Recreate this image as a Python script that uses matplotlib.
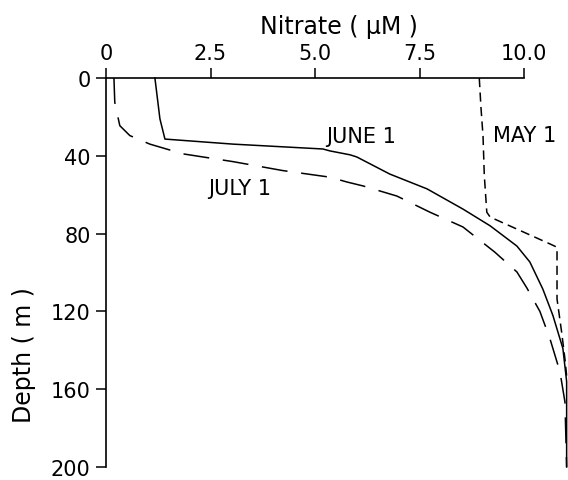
import matplotlib
matplotlib.use("Agg")
import matplotlib.pyplot as plt

# Data
may_x = [8.93, 8.97, 9.02, 9.05, 9.11, 9.19, 10.62, 10.79, 10.79, 10.79, 10.9, 10.98, 11.02]
may_depth = [0, 15, 30, 50, 69, 71.5, 85.3, 87, 100, 113.6, 130.6, 144.5, 153]

june_x = [1.17, 1.29, 1.41, 3.04, 5.19, 5.36, 5.84, 6.0, 6.79, 7.68, 8.54, 9.19,
          9.83, 10.14, 10.45, 10.69, 10.93, 11.02, 11.02]
june_depth = [0, 21, 31.4, 34, 36.5, 37.5, 39.5, 40.6, 49.4, 57, 67.4, 76,
              86.4, 94.6, 108.5, 122, 139, 156, 200]

july_x = [0.19, 0.21, 0.33, 0.57, 1.05, 1.84, 3.04, 4.23, 5.36, 5.77, 6.15, 6.96,
          7.75, 8.54, 9.3, 9.83, 10.07, 10.38, 10.62, 10.86, 10.98, 11.02]
july_depth = [0, 12.5, 24.5, 29.6, 34, 39, 43, 47.6, 51, 53.5, 55.5, 60.7,
              69, 76.6, 89.5, 99.7, 108, 120, 134, 151, 166.6, 200]

x_ticks = [0, 2.5, 5.0, 7.5, 10.0]
x_tick_labels = ["0", "2.5", "5.0", "7.5", "10.0"]
y_ticks = [0, 40, 80, 120, 160, 200]
y_tick_labels = ["0", "40", "80", "120", "160", "200"]

labels = ["MAY 1", "JUNE 1", "JULY 1"]
label_x = [10.02, 6.1, 3.2]
label_depth = [29.3, 29.8, 56.5]

plt.rcParams['font.family'] = ['DejaVu Sans']

fig = plt.figure(figsize=(5.68, 4.81), dpi=100)
W, H = 568, 481
left_px, top_px, bottom_px = 106, 79, 468
px_per_unit = (524 - 106) / 10.0
xmax = 11.05
ax = fig.add_axes([left_px / W, (H - bottom_px) / H,
                   xmax * px_per_unit / W, (bottom_px - top_px) / H])

lw = 1.1
ax.plot(may_x, may_depth, color='black', lw=lw, dashes=(6, 3.5), clip_on=False)
ax.plot(june_x, june_depth, color='black', lw=lw, clip_on=False)
ax.plot(july_x, july_depth, color='black', lw=lw, dashes=(17, 9), clip_on=False)

for t, x, d in zip(labels, label_x, label_depth):
    ax.text(x, d, t, fontsize=15, ha='center', va='center')

ax.set_xlim(0, xmax)
ax.set_ylim(200, 0)

ax.xaxis.tick_top()
ax.set_xticks(x_ticks)
ax.set_xticklabels(x_tick_labels)
ax.set_yticks(y_ticks)
ax.set_yticklabels(y_tick_labels)

for s in ['right', 'bottom']:
    ax.spines[s].set_visible(False)
ax.spines['top'].set_bounds(0, 10)
ax.spines['top'].set_linewidth(1.2)
ax.spines['left'].set_linewidth(1.2)

ax.tick_params(axis='x', which='major', direction='out', length=7, width=1.1,
               labelsize=15, pad=4)
ax.tick_params(axis='y', which='major', direction='out', length=7, width=1.1,
               labelsize=15, pad=4)

fig.text(339 / W, 1 - 27 / H, "Nitrate ( µM )", fontsize=17,
         ha='center', va='center')
fig.text(24 / W, 1 - 355 / H, "Depth ( m )", fontsize=17,
         ha='center', va='center', rotation=90)

fig.savefig("out.png", dpi=100)
